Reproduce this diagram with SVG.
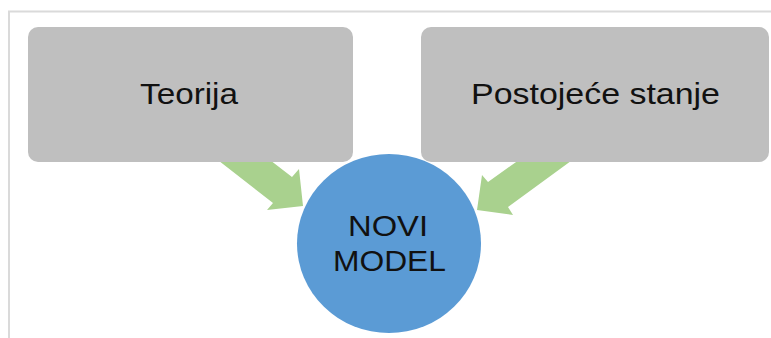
<svg xmlns="http://www.w3.org/2000/svg" width="771" height="338" viewBox="0 0 771 338">
  <style>
    .box { fill: #bfbfbf; }
    .arrow { fill: #a9d18e; }
    .circle { fill: #5b9bd5; }
    .label { font-family: "Liberation Sans", Arial, sans-serif; font-size: 29px; fill: #111111; }
  </style>
  <rect x="0" y="0" width="771" height="338" fill="#ffffff"/>
  <path d="M9 338 V11.5 H771" fill="none" stroke="#dadada" stroke-width="2"/>
  <g id="connectors">
    <polygon class="arrow" points="205,150 257,150 292,177 299,169 303,206 267,210 273,203"/>
    <polygon class="arrow" points="586,150 533,150 488,182 482,175 477,210 513,215 508,207"/>
  </g>
  <g id="node-teorija">
    <rect class="box" x="28" y="27" width="325" height="135" rx="10" ry="10"/>
    <text class="label" x="140" y="103.5" textLength="98" lengthAdjust="spacingAndGlyphs">Teorija</text>
  </g>
  <g id="node-postojece">
    <rect class="box" x="421" y="27" width="348" height="135" rx="10" ry="10"/>
    <text class="label" x="471" y="103.5" textLength="249" lengthAdjust="spacingAndGlyphs">Postojeće stanje</text>
  </g>
  <g id="node-novi-model">
    <ellipse class="circle" cx="389" cy="243.5" rx="92" ry="89.5"/>
    <text class="label" x="348" y="236" textLength="80" lengthAdjust="spacingAndGlyphs">NOVI</text>
    <text class="label" x="333" y="271" textLength="113" lengthAdjust="spacingAndGlyphs">MODEL</text>
  </g>
</svg>
